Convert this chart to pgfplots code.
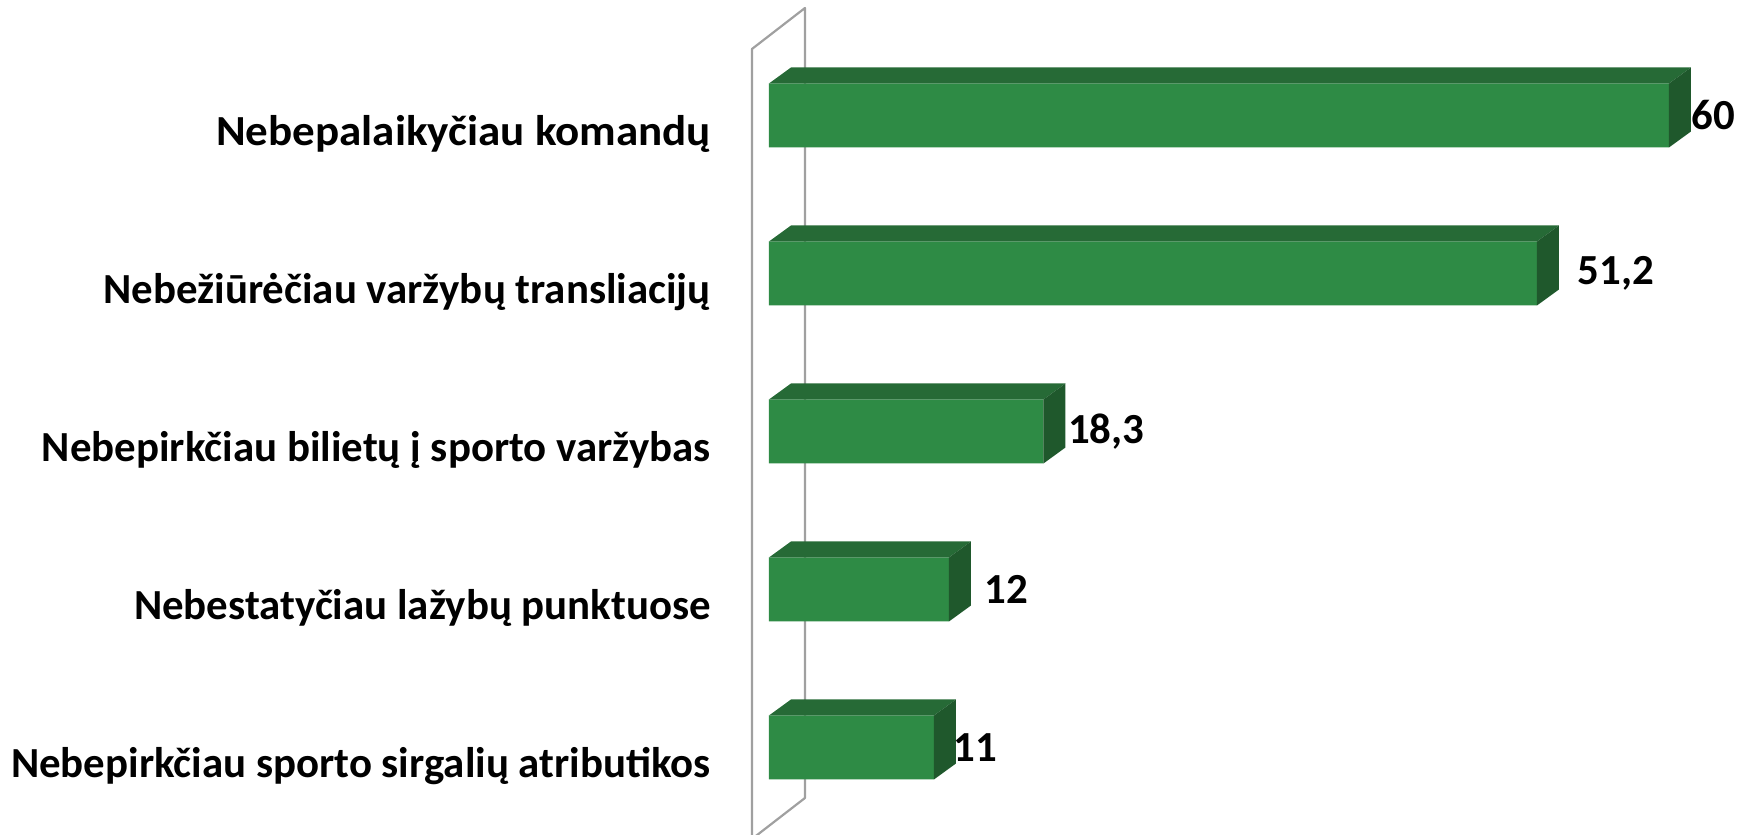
\documentclass[border=0pt]{standalone}
\usepackage{fontspec}
\setmainfont{Carlito}
\usepackage{pgfplots}
\usepackage{pgfplotstable}
\pgfplotsset{compat=1.18}

\definecolor{barfront}{RGB}{46,139,69}
\definecolor{bartop}{RGB}{38,106,54}
\definecolor{barside}{RGB}{31,88,44}
\definecolor{wallgray}{RGB}{160,160,160}

% y = category position (top bar = 4), v = value, off = label shift in mm
\pgfplotstableread{
y v off
4 60 2.2
3 51.2 4.0
2 18.3 2.4
1 12 3.5
0 11 1.9
}\answers

\begin{document}
\begin{tikzpicture}
% back wall of the 3D chart
\draw[wallgray, line width=0.22mm, line join=round]
  (-1.7mm,-1.25mm) -- (-1.7mm,77.75mm) -- (3.6mm,81.85mm) -- (3.6mm,2.85mm) -- cycle;

\begin{axis}[
  at={(0,0)}, anchor=south west,
  x=1.5mm, y=15.8mm,
  xmin=0, xmax=66, ymin=-0.5, ymax=4.5,
  clip=false,
  axis line style={draw=none},
  major tick length=0pt,
  xtick=\empty,
  ytick={0,...,4},
  yticklabels={Nebepirkčiau sporto sirgalių atributikos,
               Nebestatyčiau lažybų punktuose,
               Nebepirkčiau bilietų į sporto varžybas,
               Nebežiūrėčiau varžybų transliacijų,
               \scalebox{1.05}[1]{Nebepalaikyčiau komandų}},
  yticklabel style={font=\bfseries\fontsize{12.2}{15}\selectfont,
                    anchor=base east, inner sep=0pt, xshift=-5.75mm, yshift=-3.0mm},
]
% front faces
\addplot[xbar, bar width=6.4mm, fill=barfront, draw=none] table[x=v, y=y] {\answers};

% top faces
\addplot[fill=bartop, draw=none] coordinates {(0,4.2025) (60,4.2025) (61.467,4.3038) (1.467,4.3038)} -- cycle;
\addplot[fill=bartop, draw=none] coordinates {(0,3.2025) (51.2,3.2025) (52.667,3.3038) (1.467,3.3038)} -- cycle;
\addplot[fill=bartop, draw=none] coordinates {(0,2.2025) (18.3,2.2025) (19.767,2.3038) (1.467,2.3038)} -- cycle;
\addplot[fill=bartop, draw=none] coordinates {(0,1.2025) (12,1.2025) (13.467,1.3038) (1.467,1.3038)} -- cycle;
\addplot[fill=bartop, draw=none] coordinates {(0,0.2025) (11,0.2025) (12.467,0.3038) (1.467,0.3038)} -- cycle;

% side faces
\addplot[fill=barside, draw=none] coordinates {(60,3.7975) (61.467,3.8987) (61.467,4.3038) (60,4.2025)} -- cycle;
\addplot[fill=barside, draw=none] coordinates {(51.2,2.7975) (52.667,2.8987) (52.667,3.3038) (51.2,3.2025)} -- cycle;
\addplot[fill=barside, draw=none] coordinates {(18.3,1.7975) (19.767,1.8987) (19.767,2.3038) (18.3,2.2025)} -- cycle;
\addplot[fill=barside, draw=none] coordinates {(12,0.7975) (13.467,0.8987) (13.467,1.3038) (12,1.2025)} -- cycle;
\addplot[fill=barside, draw=none] coordinates {(11,-0.2025) (12.467,-0.1013) (12.467,0.3038) (11,0.2025)} -- cycle;

% value labels
\addplot[only marks, mark=none, draw=none,
  visualization depends on={\thisrow{off} \as \labshift},
  point meta=x,
  nodes near coords={\pgfmathprintnumber[use comma]{\pgfplotspointmeta}},
  every node near coord/.style={anchor=west, inner sep=0pt, xshift=\labshift mm,
    black, font=\bfseries\fontsize{12.2}{15}\selectfont,
    /pgf/number format/assume math mode=true},
] table[x=v, y=y] {\answers};
\end{axis}

\pgfresetboundingbox
\path[use as bounding box] (-76.9mm,-0.85mm) rectangle (97.9mm,82.65mm);
\end{tikzpicture}
\end{document}
